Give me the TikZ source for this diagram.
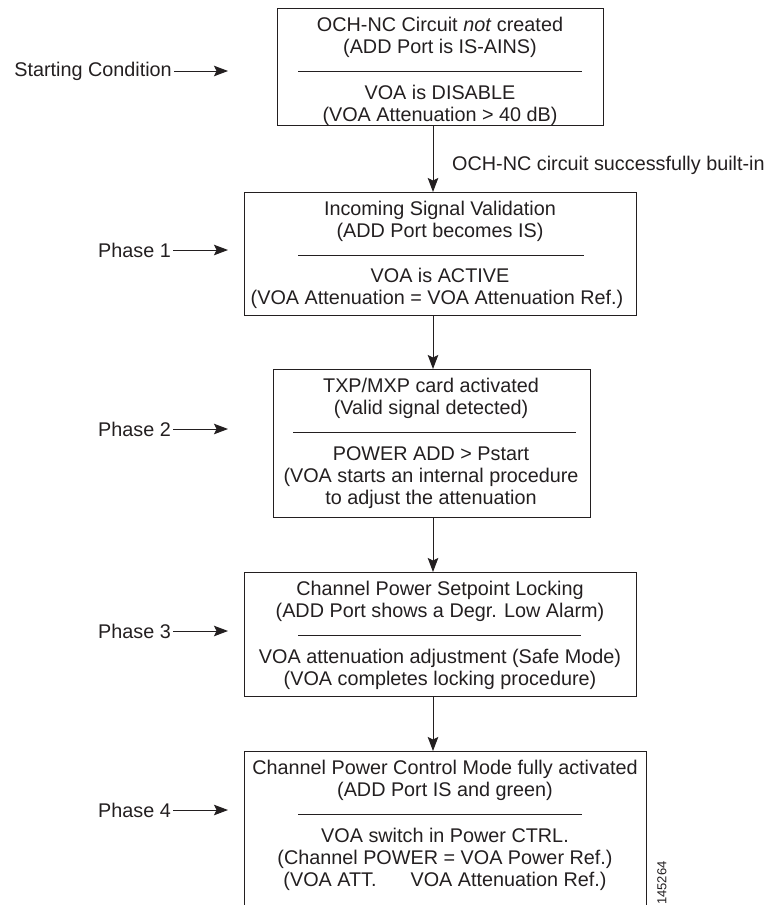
\documentclass[tikz,border=0pt]{standalone}
\usepackage{fontspec}
\setmainfont{Liberation Sans}
\usetikzlibrary{arrows.meta}
\definecolor{ink}{HTML}{231F20}
\begin{document}
\begin{tikzpicture}[x=1pt,y=-1pt,
  box/.style={draw=ink, line width=1.1pt, inner sep=0pt, anchor=north west},
  txt/.style={font=\fontsize{19.8}{22}\selectfont, text=ink, inner sep=0pt, anchor=base},
  lbl/.style={font=\fontsize{19.8}{22}\selectfont, text=ink, inner sep=0pt},
  sepline/.style={draw=ink, line width=0.9pt},
  arr/.style={draw=ink, line width=1pt, -{Stealth[length=14pt,width=10.5pt,inset=2.5pt]}}]
\useasboundingbox (0,0) rectangle (769,905);

% boxes
\node[box, minimum width=326pt, minimum height=117pt] (b0) at (277,8) {};
\node[box, minimum width=392pt, minimum height=123pt] (b1) at (244,192) {};
\node[box, minimum width=317pt, minimum height=148pt] (b2) at (273,369) {};
\node[box, minimum width=392pt, minimum height=124pt] (b3) at (244,572) {};
\node[box, minimum width=402pt, minimum height=170pt] (b4) at (244,751) {};

% box 0 text
\node[txt] (t01) at (440,31) {OCH-NC Circuit \textit{not} created};
\node[txt] (t02) at (440,53) {(ADD Port is IS-AINS)};
\node[txt] (t03) at (440,99) {VOA is DISABLE};
\node[txt] (t04) at (440,121) {(VOA Attenuation > 40 dB)};
\draw[sepline] (298,71) -- (582,71);

% box 1 text
\node[txt] (t11) at (440,215) {Incoming Signal Validation};
\node[txt] (t12) at (440,237) {(ADD Port becomes IS)};
\node[txt] (t13) at (440,282) {VOA is ACTIVE};
\node[txt] (t14) at (437,304) {(VOA Attenuation = VOA Attenuation Ref.)};
\draw[sepline] (298,255) -- (584,255);

% box 2 text
\node[txt] (t21) at (431,392) {TXP/MXP card activated};
\node[txt] (t22) at (431,414) {(Valid signal detected)};
\node[txt] (t23) at (431,460) {POWER ADD > Pstart};
\node[txt] (t24) at (431,482) {(VOA starts an internal procedure};
\node[txt] (t25) at (431,504) {to adjust the attenuation};
\draw[sepline] (293,432) -- (576,432);

% box 3 text
\node[txt] (t31) at (440,595) {Channel Power Setpoint Locking};
\node[txt] (t32) at (440,617) {(ADD Port shows a Degr. Low Alarm)};
\node[txt] (t33) at (440,663) {VOA attenuation adjustment (Safe Mode)};
\node[txt] (t34) at (440,685) {(VOA completes locking procedure)};
\draw[sepline] (298,635) -- (581,635);

% box 4 text
\node[txt] (t41) at (445,774) {Channel Power Control Mode fully activated};
\node[txt] (t42) at (445,796) {(ADD Port IS and green)};
\node[txt] (t43) at (445,842) {VOA switch in Power CTRL.};
\node[txt] (t44) at (445,864) {(Channel POWER = VOA Power Ref.)};
\node[txt] (t45) at (445,886) {(VOA ATT.\hspace{34pt}VOA Attenuation Ref.)};
\draw[sepline] (298,814) -- (582,814);

% vertical connectors
\coordinate (ax) at (433,0);
\draw[arr] (b0.south -| ax) -- (b1.north -| ax);
\draw[arr] (b1.south -| ax) -- (b2.north -| ax);
\draw[arr] (b2.south -| ax) -- (b3.north -| ax);
\draw[arr] (b3.south -| ax) -- (b4.north -| ax);
\node[lbl, anchor=base west] (built) at (452,170) {OCH-NC circuit successfully built-in};

% phase labels
\node[lbl, anchor=east] (s0) at (172,71) {Starting Condition};
\node[lbl, anchor=east] (s1) at (171,250) {Phase 1};
\node[lbl, anchor=east] (s2) at (171,429) {Phase 2};
\node[lbl, anchor=east] (s3) at (171,631) {Phase 3};
\node[lbl, anchor=east] (s4) at (171,810) {Phase 4};
\coordinate (e0) at (228,71);
\coordinate (e1) at (228,250);
\coordinate (e2) at (228,429);
\coordinate (e3) at (228,631);
\coordinate (e4) at (228,810);
\draw[arr] ([xshift=2pt]s0.east) -- (e0);
\draw[arr] ([xshift=2pt]s1.east) -- (e1);
\draw[arr] ([xshift=2pt]s2.east) -- (e2);
\draw[arr] ([xshift=2pt]s3.east) -- (e3);
\draw[arr] ([xshift=2pt]s4.east) -- (e4);

% figure number
\node[font=\fontsize{13}{15}\selectfont, text=ink, inner sep=0pt, rotate=90] (fig) at (662,883) {145264};
\end{tikzpicture}
\end{document}
